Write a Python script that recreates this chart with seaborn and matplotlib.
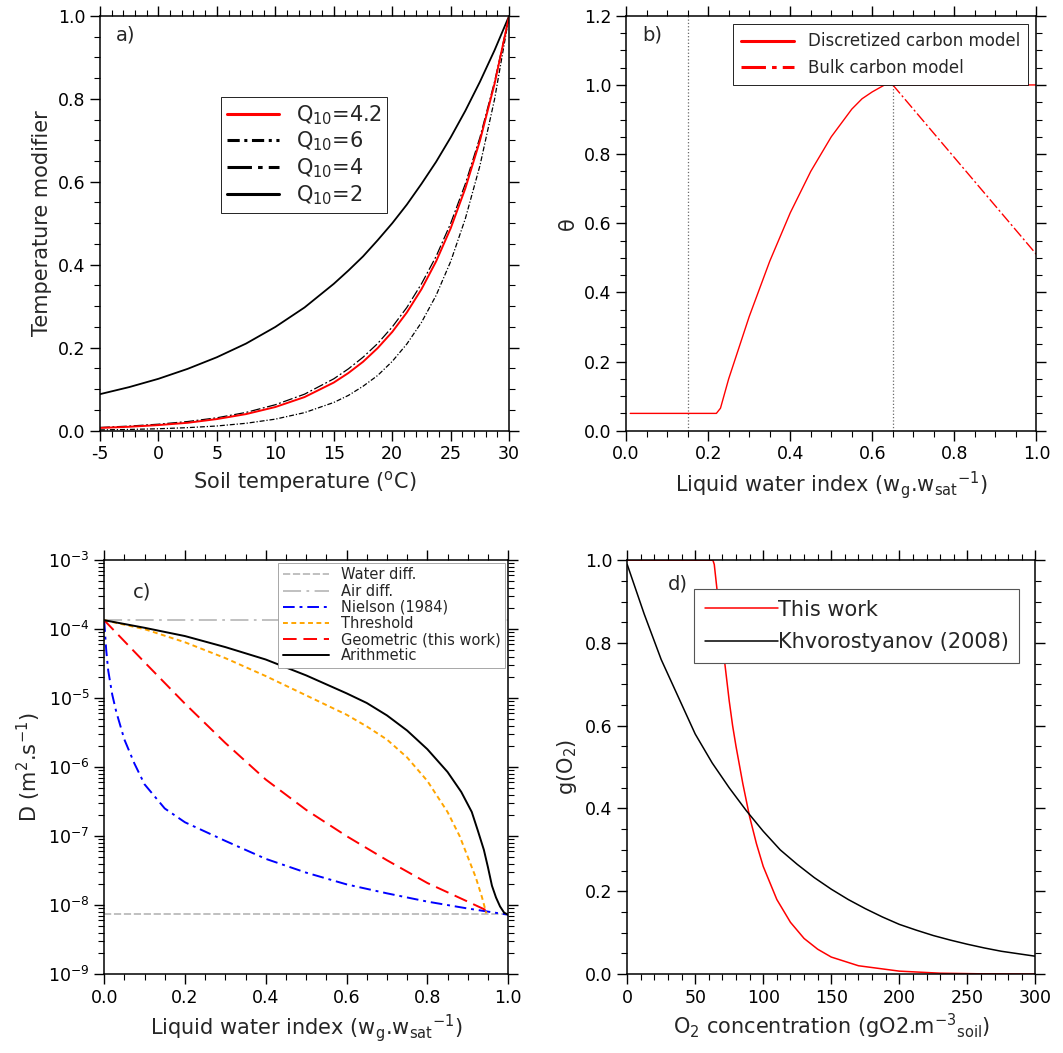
import numpy as np
import matplotlib
matplotlib.use("Agg")
import matplotlib.pyplot as plt
import seaborn as sns
from matplotlib.ticker import MultipleLocator, LogLocator, NullFormatter

# ---------------------------------------------------------------- data
# a) temperature modifier
soil_temp = [-5, -2.5, 0, 2.5, 5, 7.5, 10, 12.5, 15, 16.25, 17.5, 18.75, 20, 21.25, 22.5,
             23.75, 25, 26.25, 27.5, 28.75, 30]
q10_42 = [0.0066, 0.0094, 0.0135, 0.019, 0.028, 0.040, 0.057, 0.081, 0.116, 0.139, 0.166, 0.199,
          0.238, 0.285, 0.341, 0.408, 0.488, 0.584, 0.699, 0.836, 1.0]
q10_6 = [0.0019, 0.003, 0.0046, 0.0073, 0.0113, 0.0178, 0.0278, 0.0435, 0.068, 0.085, 0.107, 0.133,
         0.167, 0.209, 0.261, 0.326, 0.408, 0.511, 0.639, 0.799, 1.0]
q10_4 = [0.0078, 0.011, 0.0156, 0.022, 0.031, 0.044, 0.0625, 0.088, 0.125, 0.149, 0.177, 0.210,
         0.25, 0.297, 0.354, 0.420, 0.5, 0.595, 0.707, 0.841, 1.0]
q10_2 = [0.088, 0.105, 0.125, 0.149, 0.177, 0.210, 0.25, 0.297, 0.354, 0.386, 0.420, 0.459,
         0.5, 0.545, 0.595, 0.648, 0.707, 0.771, 0.841, 0.917, 1.0]

# b) moisture function
disc_x = [0.01, 0.22, 0.23, 0.25, 0.275, 0.30, 0.325, 0.35, 0.375, 0.40, 0.425, 0.45, 0.475,
          0.50, 0.525, 0.55, 0.575, 0.60, 0.615, 0.63, 0.65, 1.0]
disc_y = [0.05, 0.05, 0.065, 0.15, 0.24, 0.33, 0.41, 0.49, 0.56, 0.63, 0.69, 0.75, 0.80,
          0.85, 0.89, 0.93, 0.96, 0.98, 0.99, 1.0, 1.0, 1.0]
bulk_x = [0.65, 1.0]
bulk_y = [1.0, 0.51]
dotted_x = [0.15, 0.65]
dotted_top = [1.2, 1.0]

# c) diffusivity (log10 values read off the chart)
wli_x = [0.0, 1.0]
water_diff = [7.3e-9, 7.3e-9]
air_diff = [1.35e-4, 1.35e-4]
niel_x = [0.0, 0.005, 0.01, 0.02, 0.03, 0.05, 0.075, 0.1, 0.15, 0.2, 0.3, 0.4, 0.5, 0.6, 0.7, 0.8, 0.9, 1.0]
niel_log = [-3.87, -4.3, -4.6, -4.95, -5.2, -5.6, -5.95, -6.25, -6.6, -6.8, -7.07, -7.33, -7.53,
            -7.7, -7.83, -7.95, -8.05, -8.14]
thr_x = [0.0, 0.1, 0.2, 0.3, 0.4, 0.5, 0.6, 0.65, 0.7, 0.75, 0.8, 0.85, 0.88, 0.9, 0.92, 0.935, 0.946]
thr_log = [-3.87, -4.0, -4.19, -4.42, -4.68, -4.96, -5.24, -5.41, -5.6, -5.86, -6.2, -6.65, -7.0,
           -7.3, -7.6, -7.88, -8.12]
geo_x = [0.0, 0.1, 0.2, 0.3, 0.4, 0.5, 0.6, 0.7, 0.8, 0.9, 0.955]
geo_log = [-3.87, -4.48, -5.08, -5.65, -6.18, -6.62, -7.0, -7.35, -7.68, -7.95, -8.1]
ari_x = [0.0, 0.1, 0.2, 0.3, 0.4, 0.5, 0.6, 0.65, 0.7, 0.75, 0.8, 0.85, 0.884, 0.91, 0.925, 0.94,
         0.95, 0.96, 0.97, 0.98, 0.99, 1.0]
ari_log = [-3.87, -3.98, -4.10, -4.26, -4.44, -4.67, -4.93, -5.07, -5.25, -5.47, -5.74, -6.07,
           -6.36, -6.65, -6.92, -7.2, -7.45, -7.72, -7.89, -8.02, -8.11, -8.14]

# d) oxygen function
o2_red_x = [0, 63, 64, 66, 68, 70, 72.5, 75, 77.5, 80, 85, 90, 95, 100, 110, 120, 130, 140, 150,
            170, 200, 230, 260, 300]
o2_red_y = [1.0, 1.0, 0.99, 0.93, 0.86, 0.80, 0.73, 0.66, 0.60, 0.55, 0.46, 0.38, 0.315, 0.26,
            0.18, 0.125, 0.086, 0.06, 0.041, 0.02, 0.007, 0.002, 0.0005, 0.0]
o2_blk_x = [0, 12.5, 25, 37.5, 50, 62.5, 75, 87.5, 100, 112.5, 125, 137.5, 150, 162.5, 175,
            187.5, 200, 212.5, 225, 237.5, 250, 262.5, 275, 287.5, 300]
o2_blk_y = [0.99, 0.87, 0.76, 0.67, 0.58, 0.51, 0.45, 0.395, 0.345, 0.30, 0.265, 0.233, 0.205,
            0.18, 0.158, 0.138, 0.12, 0.106, 0.093, 0.082, 0.072, 0.063, 0.055, 0.049, 0.043]

# ---------------------------------------------------------------- style
sns.set_style("ticks")
plt.rcParams["font.family"] = ["DejaVu Sans"]
LAB = 15
TCK = 12.5

fig = plt.figure(figsize=(10.63, 10.53), dpi=100)
ax_a = fig.add_axes([0.094, 0.591, 0.385, 0.394])
ax_b = fig.add_axes([0.589, 0.591, 0.386, 0.394])
ax_c = fig.add_axes([0.098, 0.075, 0.380, 0.393])
ax_d = fig.add_axes([0.590, 0.075, 0.384, 0.393])


def style_axis(ax):
    ax.tick_params(which="both", direction="out", top=True, right=True, labelsize=TCK,
                   colors="black")
    ax.tick_params(which="major", length=7, width=1)
    ax.tick_params(which="minor", length=4, width=0.8)
    for s in ax.spines.values():
        s.set_linewidth(1.1)
        s.set_color("black")


def pow10(vals):
    return [10.0 ** v for v in vals]


# a)
sns.lineplot(x=soil_temp, y=q10_2, ax=ax_a, color="black", lw=1.3, label="Q$_{10}$=2")
sns.lineplot(x=soil_temp, y=q10_6, ax=ax_a, color="black", lw=0.9, label="Q$_{10}$=6")
ax_a.lines[-1].set_dashes([4, 1.5, 1, 1.5])
sns.lineplot(x=soil_temp, y=q10_4, ax=ax_a, color="black", lw=0.9, label="Q$_{10}$=4")
ax_a.lines[-1].set_dashes([8, 2, 1.5, 2])
sns.lineplot(x=soil_temp, y=q10_42, ax=ax_a, color="red", lw=1.4, label="Q$_{10}$=4.2")
h, l = ax_a.get_legend_handles_labels()
order = [3, 1, 2, 0]
leg = ax_a.legend([h[i] for i in order], [l[i] for i in order], loc="upper left",
                  bbox_to_anchor=(0.27, 0.83), fontsize=15, fancybox=False, framealpha=1,
                  edgecolor="black", handlelength=2.5, labelspacing=0.15, borderpad=0.3)
leg.get_frame().set_linewidth(0.6)
for lh in leg.get_lines():
    lh.set_linewidth(2.2)
ax_a.set_xlim(-5, 30)
ax_a.set_ylim(0, 1)
ax_a.xaxis.set_major_locator(MultipleLocator(5))
ax_a.xaxis.set_minor_locator(MultipleLocator(1))
ax_a.yaxis.set_major_locator(MultipleLocator(0.2))
ax_a.yaxis.set_minor_locator(MultipleLocator(0.05))
ax_a.set_xticklabels([f"{int(v)}" for v in ax_a.get_xticks()])
ax_a.set_yticklabels([f"{v:.1f}" for v in ax_a.get_yticks()])
ax_a.set_xlabel("Soil temperature ($^{\\mathrm{o}}$C)", fontsize=LAB)
ax_a.set_ylabel("Temperature modifier", fontsize=LAB)
ax_a.text(0.04, 0.94, "a)", transform=ax_a.transAxes, fontsize=14)
style_axis(ax_a)

# b)
ax_b.vlines(dotted_x, 0, dotted_top, color="dimgray", lw=0.9, ls=":")
sns.lineplot(x=disc_x, y=disc_y, ax=ax_b, color="red", lw=1.0, label="Discretized carbon model")
sns.lineplot(x=bulk_x, y=bulk_y, ax=ax_b, color="red", lw=1.0, label="Bulk carbon model")
ax_b.lines[-1].set_dashes([8, 2, 1.5, 2])
leg = ax_b.legend(loc="upper right", fontsize=12, fancybox=False, framealpha=1,
                  edgecolor="black", handlelength=3.2, borderpad=0.5)
leg.get_frame().set_linewidth(0.6)
for lh in leg.get_lines():
    lh.set_linewidth(2.2)
ax_b.set_xlim(0, 1)
ax_b.set_ylim(0, 1.2)
ax_b.xaxis.set_major_locator(MultipleLocator(0.2))
ax_b.xaxis.set_minor_locator(MultipleLocator(0.05))
ax_b.yaxis.set_major_locator(MultipleLocator(0.2))
ax_b.yaxis.set_minor_locator(MultipleLocator(0.05))
ax_b.set_xticklabels([f"{v:.1f}" for v in ax_b.get_xticks()])
ax_b.set_yticklabels([f"{v:.1f}" for v in ax_b.get_yticks()])
ax_b.set_xlabel("Liquid water index (w$_{\\mathrm{g}}$.w$_{\\mathrm{sat}}$$^{-1}$)", fontsize=LAB)
ax_b.set_ylabel("θ", fontsize=LAB)
ax_b.text(0.04, 0.94, "b)", transform=ax_b.transAxes, fontsize=14)
style_axis(ax_b)

# c)
sns.lineplot(x=wli_x, y=water_diff, ax=ax_c, color="#bbbbbb", lw=1.3, label="Water diff.")
ax_c.lines[-1].set_dashes([4, 1.5])
sns.lineplot(x=wli_x, y=air_diff, ax=ax_c, color="#bbbbbb", lw=1.3, label="Air diff.")
ax_c.lines[-1].set_dashes([10, 3, 1.5, 3])
sns.lineplot(x=niel_x, y=pow10(niel_log), ax=ax_c, color="blue", lw=1.4, label="Nielson (1984)")
ax_c.lines[-1].set_dashes([6, 2.5, 1.5, 2.5])
sns.lineplot(x=thr_x, y=pow10(thr_log), ax=ax_c, color="orange", lw=1.4, label="Threshold")
ax_c.lines[-1].set_dashes([2.5, 1.8])
sns.lineplot(x=geo_x, y=pow10(geo_log), ax=ax_c, color="red", lw=1.4, label="Geometric (this work)")
ax_c.lines[-1].set_dashes([7, 3.5])
sns.lineplot(x=ari_x, y=pow10(ari_log), ax=ax_c, color="black", lw=1.4, label="Arithmetic")
ax_c.set_yscale("log")
ax_c.set_xlim(0, 1)
ax_c.set_ylim(1e-9, 1e-3)
ax_c.xaxis.set_major_locator(MultipleLocator(0.2))
ax_c.xaxis.set_minor_locator(MultipleLocator(0.05))
ax_c.yaxis.set_major_locator(LogLocator(base=10, numticks=10))
ax_c.yaxis.set_minor_locator(LogLocator(base=10, subs=np.arange(2, 10), numticks=10))
ax_c.yaxis.set_minor_formatter(NullFormatter())
ax_c.set_xticklabels([f"{v:.1f}" for v in ax_c.get_xticks()])
leg = ax_c.legend(loc="upper right", fontsize=10.5, fancybox=False, framealpha=1,
                  edgecolor="#999999", handlelength=3.2, labelspacing=0.08, borderpad=0.3,
                  borderaxespad=0.2)
leg.get_frame().set_linewidth(0.6)
ax_c.set_xlabel("Liquid water index (w$_{\\mathrm{g}}$.w$_{\\mathrm{sat}}$$^{-1}$)", fontsize=LAB)
ax_c.set_ylabel("D (m$^2$.s$^{-1}$)", fontsize=LAB)
ax_c.text(0.07, 0.91, "c)", transform=ax_c.transAxes, fontsize=14)
style_axis(ax_c)

# d)
sns.lineplot(x=o2_red_x, y=o2_red_y, ax=ax_d, color="red", lw=1.1, label="This work")
sns.lineplot(x=o2_blk_x, y=o2_blk_y, ax=ax_d, color="black", lw=1.1, label="Khvorostyanov (2008)")
leg = ax_d.legend(loc="upper right", bbox_to_anchor=(0.985, 0.955), fontsize=15, fancybox=False,
                  framealpha=1, edgecolor="#555555", handlelength=3.5, handletextpad=0.0,
                  labelspacing=0.6, borderpad=0.5)
leg.get_frame().set_linewidth(0.8)
ax_d.set_xlim(0, 300)
ax_d.set_ylim(0, 1)
ax_d.xaxis.set_major_locator(MultipleLocator(50))
ax_d.xaxis.set_minor_locator(MultipleLocator(10))
ax_d.yaxis.set_major_locator(MultipleLocator(0.2))
ax_d.yaxis.set_minor_locator(MultipleLocator(0.05))
ax_d.set_yticklabels([f"{v:.1f}" for v in ax_d.get_yticks()])
ax_d.set_xlabel("O$_2$ concentration (gO2.m$^{-3}$$_{\\mathrm{soil}}$)", fontsize=LAB)
ax_d.set_ylabel("g(O$_2$)", fontsize=LAB)
ax_d.text(0.1, 0.93, "d)", transform=ax_d.transAxes, fontsize=14)
style_axis(ax_d)

fig.savefig("out.png", dpi=100)
